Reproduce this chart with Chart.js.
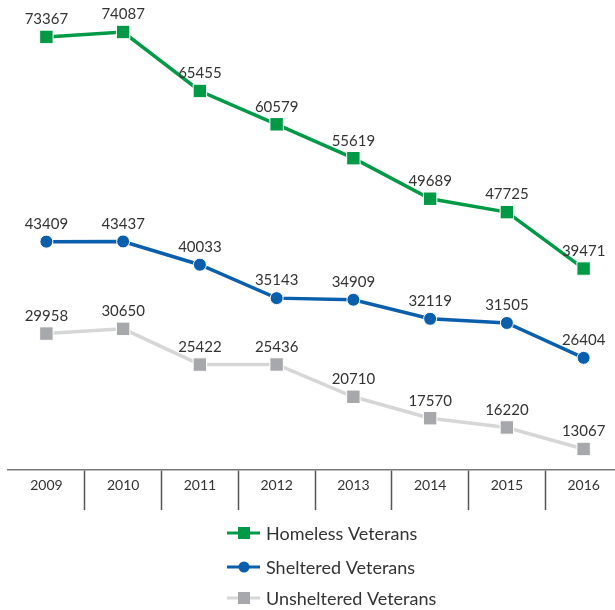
<!DOCTYPE html>
<html lang="en">
<head>
    <meta charset="UTF-8">
    <title>Veterans Homelessness 2009-2016</title>
    <script src="https://cdn.jsdelivr.net/npm/chart.js"></script>
    <style>
        html, body {
            margin: 0;
            padding: 0;
            background: #ffffff;
            overflow: hidden;
        }
        #wrap {
            position: absolute;
            left: 0;
            top: 0;
            width: 622px;
            height: 610px;
        }
    </style>
</head>
<body>
    <div id="wrap"><canvas id="grafico"></canvas></div>

    <script>
        const years = ['2009', '2010', '2011', '2012', '2013', '2014', '2015', '2016'];
        const homeless = [73367, 74087, 65455, 60579, 55619, 49689, 47725, 39471];
        const sheltered = [43409, 43437, 40033, 35143, 34909, 32119, 31505, 26404];
        const unsheltered = [29958, 30650, 25422, 25436, 20710, 17570, 16220, 13067];
        const seriesNames = ['Homeless Veterans', 'Sheltered Veterans', 'Unsheltered Veterans'];

        const fontFam = "Lato, 'Noto Sans', sans-serif";

        // valores encima de cada punto
        const valueLabels = {
            id: 'valueLabels',
            afterDatasetsDraw(chart) {
                const ctx = chart.ctx;
                ctx.save();
                ctx.font = '15px ' + fontFam;
                ctx.fillStyle = '#333333';
                ctx.textAlign = 'center';
                ctx.textBaseline = 'middle';
                chart.data.datasets.forEach((ds, i) => {
                    chart.getDatasetMeta(i).data.forEach((pt, j) => {
                        ctx.fillText(String(ds.data[j]), pt.x, pt.y - 17.5);
                    });
                });
                ctx.restore();
            }
        };

        // leyenda en columna, abajo
        const stackedLegend = {
            id: 'stackedLegend',
            afterDraw(chart) {
                const ctx = chart.ctx;
                const rows = [533, 567, 598];
                ctx.save();
                chart.data.datasets.forEach((ds, i) => {
                    const y = rows[i];
                    ctx.strokeStyle = ds.borderColor;
                    ctx.lineWidth = 3;
                    ctx.beginPath();
                    ctx.moveTo(227, y);
                    ctx.lineTo(260, y);
                    ctx.stroke();
                    ctx.fillStyle = ds.pointBackgroundColor;
                    if (ds.pointStyle === 'circle') {
                        ctx.beginPath();
                        ctx.arc(244, y, 5.5, 0, Math.PI * 2);
                        ctx.fill();
                    } else {
                        ctx.fillRect(238, y - 6, 12, 12);
                    }
                    ctx.font = '18px ' + fontFam;
                    ctx.fillStyle = '#333333';
                    ctx.textAlign = 'left';
                    ctx.textBaseline = 'middle';
                    ctx.fillText(seriesNames[i], 266, y + 1);
                });
                ctx.restore();
            }
        };

        const ctx = document.getElementById('grafico').getContext('2d');
        const grafico = new Chart(ctx, {
            type: 'line',
            data: {
                labels: years,
                datasets: [{
                    label: seriesNames[0],
                    data: homeless,
                    borderColor: '#009a47',
                    pointBackgroundColor: '#009a47',
                    pointStyle: 'rect',
                    pointRadius: 9.5
                }, {
                    label: seriesNames[1],
                    data: sheltered,
                    borderColor: '#0a5fad',
                    pointBackgroundColor: '#0a5fad',
                    pointStyle: 'circle',
                    pointRadius: 6.5
                }, {
                    label: seriesNames[2],
                    data: unsheltered,
                    borderColor: '#d6d6d6',
                    pointBackgroundColor: '#a6a8ab',
                    pointStyle: 'rect',
                    pointRadius: 9.5
                }].map(d => Object.assign({
                    borderWidth: 3.5,
                    pointBorderColor: '#ffffff',
                    pointBorderWidth: 1,
                    tension: 0,
                    fill: false
                }, d))
            },
            options: {
                responsive: true,
                maintainAspectRatio: false,
                animation: false,
                layout: {
                    autoPadding: false,
                    padding: { left: 8, right: 0, top: 0, bottom: 100 }
                },
                scales: {
                    x: {
                        offset: true,
                        afterFit(scale) { scale.height = 40; },
                        grid: {
                            offset: true,
                            drawOnChartArea: false,
                            drawTicks: true,
                            tickLength: 40,
                            tickWidth: 1.5,
                            tickColor: (c) => c.index === 0 ? 'rgba(0,0,0,0)' : '#555555'
                        },
                        border: { display: true, color: '#7a7a7a', width: 1.5 },
                        ticks: {
                            autoSkip: false,
                            maxRotation: 0,
                            padding: -33,
                            color: '#333333',
                            font: { family: fontFam, size: 14 }
                        }
                    },
                    y: {
                        display: false,
                        min: 9994,
                        max: 78768
                    }
                },
                plugins: {
                    legend: { display: false },
                    tooltip: { enabled: false }
                }
            },
            plugins: [valueLabels, stackedLegend]
        });
    </script>
</body>
</html>
